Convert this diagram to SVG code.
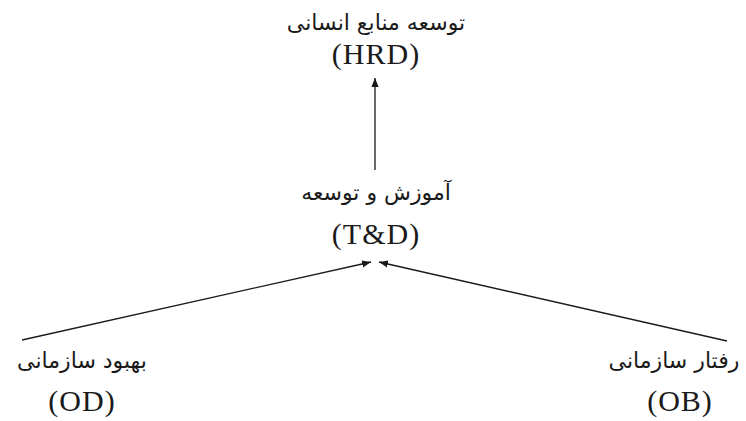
<svg xmlns="http://www.w3.org/2000/svg" width="746" height="421" viewBox="0 0 746 421">
<style>
.fa{font-family:"DejaVu Sans",sans-serif;font-size:22px;fill:#1a1a1a;text-anchor:middle}
.en{font-family:"Liberation Serif",serif;font-size:30px;letter-spacing:1px;fill:#1a1a1a;text-anchor:middle}
.ln{stroke:#1a1a1a;stroke-width:1.3;fill:none}
</style>
<defs>
<marker id="ah" viewBox="0 0 10 10" refX="10" refY="5" markerWidth="9" markerHeight="9" orient="auto" markerUnits="userSpaceOnUse">
<path d="M0,1 L10,5 L0,9 Z" fill="#1a1a1a"/>
</marker>
</defs>
<g id="connectors">
<line class="ln" x1="375" y1="170" x2="375" y2="78" marker-end="url(#ah)"/>
<line class="ln" x1="22" y1="340" x2="371" y2="262" marker-end="url(#ah)"/>
<line class="ln" x1="727" y1="341" x2="379" y2="262" marker-end="url(#ah)"/>
</g>
<g id="hrd">
<text class="fa" x="376" y="30" direction="rtl">توسعه منابع انسانی</text>
<text class="en" x="376" y="64">(HRD)</text>
</g>
<g id="td">
<text class="fa" x="376" y="200" direction="rtl">آموزش و توسعه</text>
<text class="en" x="376" y="244">(T&amp;D)</text>
</g>
<g id="od">
<text class="fa" x="82" y="368" direction="rtl">بهبود سازمانی</text>
<text class="en" x="82" y="411">(OD)</text>
</g>
<g id="ob">
<text class="fa" x="674" y="368" direction="rtl">رفتار سازمانی</text>
<text class="en" x="680" y="411">(OB)</text>
</g>
</svg>
